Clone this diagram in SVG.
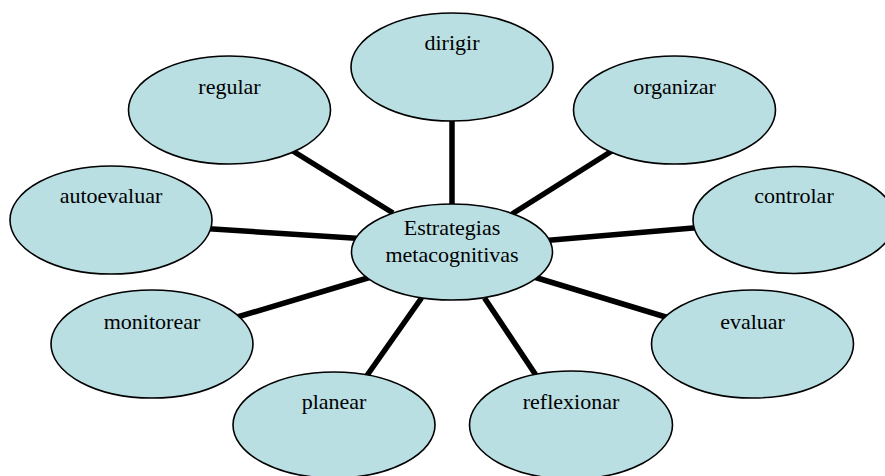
<svg xmlns="http://www.w3.org/2000/svg" width="885" height="476" viewBox="0 0 885 476">
<style>
.n ellipse{fill:#b9dfe3;stroke:#000;stroke-width:1.6}
.n text{font-family:'Liberation Serif','Times New Roman',serif;font-size:22px;fill:#000;text-anchor:middle}
#connectors line{stroke:#000;stroke-width:5.5}
</style>
<rect width="885" height="476" fill="#fff"/>
<g id="connectors">
<line x1="452" y1="115" x2="452" y2="210"/>
<line x1="615" y1="149" x2="512" y2="214"/>
<line x1="699" y1="227.5" x2="546" y2="240.5"/>
<line x1="288" y1="148" x2="393" y2="213"/>
<line x1="205" y1="228.6" x2="360" y2="238.4"/>
<line x1="234" y1="318" x2="371" y2="277"/>
<line x1="364.5" y1="379" x2="421.5" y2="298"/>
<line x1="538.5" y1="379" x2="484.5" y2="298"/>
<line x1="669" y1="318" x2="534" y2="277"/>
</g>
<g id="center" class="n"><ellipse cx="452" cy="252" rx="100.5" ry="48"/><text x="452" y="235">Estrategias</text><text x="452" y="262">metacognitivas</text></g>
<g id="dirigir" class="n"><ellipse cx="452" cy="67" rx="101" ry="54"/><text x="452" y="50">dirigir</text></g>
<g id="organizar" class="n"><ellipse cx="674.5" cy="110" rx="101" ry="54"/><text x="674.5" y="94">organizar</text></g>
<g id="controlar" class="n"><ellipse cx="794" cy="220" rx="101" ry="53.5"/><text x="794" y="203">controlar</text></g>
<g id="evaluar" class="n"><ellipse cx="752.5" cy="344" rx="101" ry="54"/><text x="752.5" y="329">evaluar</text></g>
<g id="reflexionar" class="n"><ellipse cx="571" cy="425" rx="101.5" ry="54"/><text x="571" y="409">reflexionar</text></g>
<g id="planear" class="n"><ellipse cx="334" cy="425" rx="101" ry="53"/><text x="334" y="409">planear</text></g>
<g id="monitorear" class="n"><ellipse cx="152" cy="344" rx="101" ry="54"/><text x="152" y="329">monitorear</text></g>
<g id="autoevaluar" class="n"><ellipse cx="111" cy="220" rx="101" ry="54"/><text x="111" y="203">autoevaluar</text></g>
<g id="regular" class="n"><ellipse cx="229.5" cy="110" rx="101" ry="54"/><text x="229.5" y="94">regular</text></g>
</svg>
